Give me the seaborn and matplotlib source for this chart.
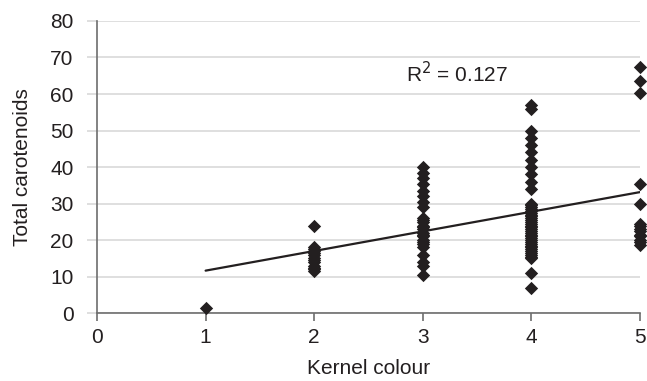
import matplotlib
matplotlib.use("Agg")
import matplotlib.pyplot as plt
import pandas as pd
import seaborn as sns

# Total carotenoids read per kernel colour class (dense columns hold overlapping points)
colour_1 = [1.5]
colour_2 = [24, 18, 17.5, 17, 16.5, 16, 15, 14.5, 14, 13, 12.5, 12, 11.5]
colour_3 = [40, 38.5, 37, 35.5, 33.5, 32, 30.5, 29,
            26, 25.5, 25, 24, 23.5, 23, 22, 21.5, 21, 20, 19.5, 19, 18,
            16, 14, 13, 10.5]
colour_4 = [57, 56, 50, 48, 46, 44, 42, 40, 38, 36, 34,
            30, 29.5, 29, 28.5, 28, 27.5, 27, 26.5, 26, 25.5, 25,
            24.5, 24, 23.5, 23, 22.5, 22, 21.5, 21, 20.5, 20, 19.5, 19, 18.5,
            18, 17.5, 17, 16.5, 16, 15.5, 15, 11, 7]
colour_5 = [67.5, 63.5, 60.3, 35.5, 30, 24.5, 24, 23, 22.5, 21.5, 21, 20,
            19.5, 18.8]

x_ticks = [0, 1, 2, 3, 4, 5]
y_ticks = [0, 10, 20, 30, 40, 50, 60, 70, 80]
r2_label = "R$^2$ = 0.127"

rows = []
for k, vals in zip([1, 2, 3, 4, 5], [colour_1, colour_2, colour_3, colour_4, colour_5]):
    rows += [(k, v) for v in vals]
df = pd.DataFrame(rows, columns=["kernel", "carotenoids"])

sns.set_style("white")
plt.rcParams["font.family"] = ["Liberation Sans", "DejaVu Sans"]

fig = plt.figure(figsize=(6.47, 3.81), dpi=100)
ax = fig.add_axes([0.15, 0.178, 0.839, 0.767])

sns.regplot(data=df, x="kernel", y="carotenoids", ci=None, ax=ax,
            marker="D",
            scatter_kws=dict(s=46, color="#231f20", alpha=1, linewidths=0,
                             clip_on=False, zorder=3),
            line_kws=dict(color="#231f20", lw=1.6, zorder=2))

ax.set_xlim(0, 5)
ax.set_ylim(0, 80)
ax.set_xticks(x_ticks)
ax.set_yticks(y_ticks)
ax.yaxis.grid(True, color="#d9d9d9", lw=1.2)
ax.set_axisbelow(True)

for side in ["top", "right"]:
    ax.spines[side].set_visible(False)
for side in ["left", "bottom"]:
    ax.spines[side].set_color("#6d6d6d")
    ax.spines[side].set_linewidth(1.2)

fs = 15
ax.tick_params(axis="y", direction="out", length=7, width=1.2, color="#d9d9d9",
               labelsize=fs, labelcolor="#231f20", pad=10, left=True)
ax.tick_params(axis="x", direction="out", length=6, width=1.2, color="#6d6d6d",
               labelsize=fs, labelcolor="#231f20", pad=5, bottom=True)

ax.set_xlabel("Kernel colour", fontsize=fs, color="#231f20", labelpad=8)
ax.set_ylabel("Total carotenoids", fontsize=fs, color="#231f20", labelpad=13)

ax.text(3.32, 65.5, r2_label, fontsize=fs, color="#231f20", ha="center", va="center")

fig.savefig("out.png", dpi=100)
